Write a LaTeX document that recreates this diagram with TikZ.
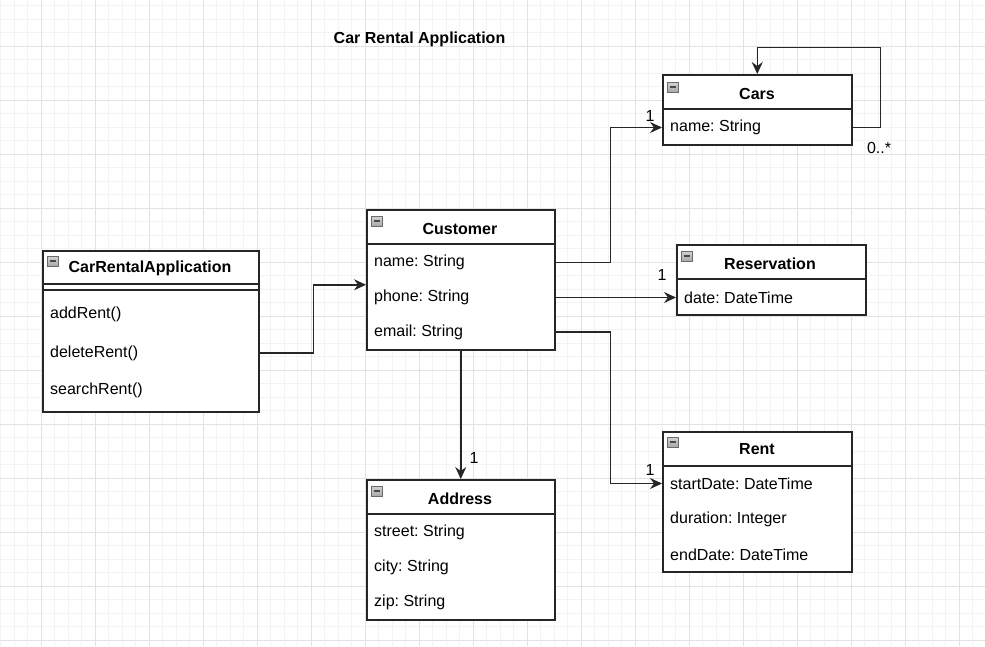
\documentclass[tikz,border=0pt]{standalone}
\usepackage{fontspec}
\setmainfont{Liberation Sans}
\usetikzlibrary{arrows.meta}
\frenchspacing
\definecolor{gridminor}{HTML}{F3F3F3}
\definecolor{gridmajor}{HTML}{E2E2E2}
\definecolor{iconfill}{HTML}{A8A8A8}
\definecolor{iconline}{HTML}{6A6A6A}
\tikzset{
  classbox/.style={draw=black!85, line width=1.5pt, fill=white, inner sep=0pt, anchor=north west},
  sepline/.style={draw=black!85, line width=1.5pt},
  classname/.style={font=\bfseries\fontsize{16}{19}\selectfont, inner sep=0pt, yshift=-1.5pt},
  attr/.style={font=\fontsize{16}{19}\selectfont, anchor=west, inner sep=0pt, yshift=-1.5pt},
  conn/.style={draw=black!85, line width=1.5pt, -{Stealth[length=12pt,width=11pt,inset=4pt]}},
  mult/.style={font=\fontsize{16}{19}\selectfont, inner sep=0pt},
  iconbox/.style={draw=iconline, line width=0.9pt, top color=iconfill!50, bottom color=iconfill, minimum width=11pt, minimum height=10pt, inner sep=0pt},
}
\newcommand{\collapseicon}[2]{%
  \node[iconbox] (#1) at (#2) {};
  \draw[iconline!70!black, line width=1.8pt] ([xshift=2.5pt]#1.west) -- ([xshift=-2.5pt]#1.east);
}
\begin{document}
\begin{tikzpicture}[x=1pt,y=-1pt]
\useasboundingbox (0,0) rectangle (985,646);
\fill[white] (0,0) rectangle (985,646);
% grid
\foreach \i in {0,...,73} {\draw[gridminor, line width=0.8pt] (0.5+13.5*\i,0) -- (0.5+13.5*\i,646);}
\foreach \i in {0,...,48} {\draw[gridminor, line width=0.8pt] (0,5.5+13.5*\i) -- (985,5.5+13.5*\i);}
\foreach \i in {0,...,18} {\draw[gridmajor, line width=0.9pt] (41+54*\i,0) -- (41+54*\i,646);}
\foreach \i in {-1,...,11} {\draw[gridmajor, line width=0.9pt] (0,46+54*\i) -- (985,46+54*\i);}

% title
\node[classname] (title) at (419.5,38) {Car Rental Application};

% CarRentalApplication
\node[classbox, minimum width=216pt, minimum height=161pt] (app) at (42,250) {};
\draw[sepline] (42,284) -- (258,284);
\draw[sepline] (42,290) -- (258,290);
\node[classname] (appt) at (150,267) {CarRentalApplication};
\collapseicon{appi}{53,261}
\node[attr] (appadd) at (50,313) {addRent()};
\node[attr] (appdel) at (50,351.5) {deleteRent()};
\node[attr] (appsea) at (50,389) {searchRent()};

% Customer
\node[classbox, minimum width=188pt, minimum height=140pt] (cust) at (366,209) {};
\draw[sepline] (366,244) -- (554,244);
\node[classname] (custt) at (460,227) {Customer};
\collapseicon{custi}{377,221}
\node[attr] (custname) at (374,261) {name: String};
\node[attr] (custphone) at (374,296) {phone: String};
\node[attr] (custemail) at (374,330.5) {email: String};

% Cars
\node[classbox, minimum width=189pt, minimum height=70pt] (cars) at (662,74) {};
\draw[sepline] (662,109) -- (851,109);
\node[classname] (carst) at (757,92) {Cars};
\collapseicon{carsi}{673,87}
\node[attr] (carsname) at (670,126) {name: String};

% Reservation
\node[classbox, minimum width=189pt, minimum height=70pt] (res) at (676,244) {};
\draw[sepline] (676,279) -- (865,279);
\node[classname] (rest) at (770,262) {Reservation};
\collapseicon{resi}{687,256}
\node[attr] (resdate) at (684,296) {date: DateTime};

% Rent
\node[classbox, minimum width=189pt, minimum height=140pt] (rent) at (662,431) {};
\draw[sepline] (662,466) -- (851,466);
\node[classname] (rentt) at (757,448) {Rent};
\collapseicon{renti}{673,442}
\node[attr] (rentstart) at (670,482) {startDate: DateTime};
\node[attr] (rentdur) at (670,518) {duration: Integer};
\node[attr] (rentend) at (670,553) {endDate: DateTime};

% Address
\node[classbox, minimum width=188pt, minimum height=140pt] (addr) at (366,479) {};
\draw[sepline] (366,514) -- (554,514);
\node[classname] (addrt) at (460,497) {Address};
\collapseicon{addri}{377,491}
\node[attr] (addrstreet) at (374,531) {street: String};
\node[attr] (addrcity) at (374,566) {city: String};
\node[attr] (addrzip) at (374,601) {zip: String};

% connectors
\draw[conn] (app.east |- appdel) -- ++(54,0) |- ([yshift=-5pt]cust.west);
\draw[conn] (cust.east |- custname) -- ++(55,0) |- (cars.west |- carsname);
\draw[conn] (cust.east |- custphone) -- (res.west |- resdate);
\draw[conn] (cust.east |- custemail) -- ++(55,0) |- (rent.west |- rentstart);
\draw[conn] (cust.south) -- (addr.north);
\draw[conn] (cars.east |- carsname) -- ++(28,0) -- ++(0,-80) -| (cars.north);

% multiplicities
\node[mult] (m1) at (650,116) {1};
\node[mult] (m2) at (662,275) {1};
\node[mult] (m3) at (650,470) {1};
\node[mult] (m4) at (474,458) {1};
\node[mult] (m5) at (879,148) {0..*};
\end{tikzpicture}
\end{document}
